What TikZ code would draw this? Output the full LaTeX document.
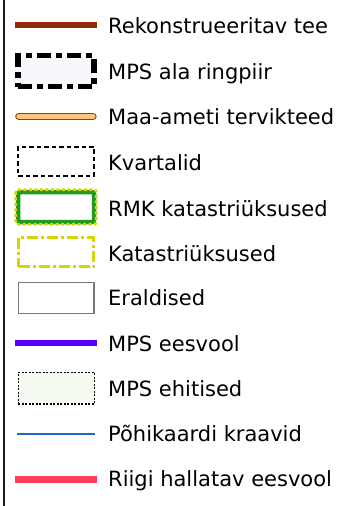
\documentclass[tikz,border=0pt]{standalone}
\usepackage{fontspec}
\setmainfont{DejaVu Sans}
\definecolor{roadbrown}{HTML}{8C2A0A}
\definecolor{mainroad}{HTML}{FFC77E}
\definecolor{mainroadedge}{HTML}{7A4A14}
\definecolor{ringfill}{HTML}{F8F8FC}
\definecolor{rmkgreen}{HTML}{1E9A1E}
\definecolor{cadyellow}{HTML}{D6D600}
\definecolor{standgray}{HTML}{777777}
\definecolor{ditchviolet}{HTML}{5500FF}
\definecolor{buildfill}{HTML}{F4FBF0}
\definecolor{ditchblue}{HTML}{1F66CC}
\definecolor{statered}{HTML}{FF3F5A}
\begin{document}
\begin{tikzpicture}[x=1pt,y=-1pt,
  label/.style={anchor=base west,inner sep=0pt,font=\fontsize{21}{25}\selectfont},
  symbox/.style={rectangle,inner sep=0pt,minimum width=76pt,minimum height=30pt},
  symline/.style={line cap=butt}]
\useasboundingbox (0,0) rectangle (340,506);
% frame edge on the left
\draw[line width=2.5pt,color=black!90] (4,0) -- (4,506);

% 1 reconstructed road
\coordinate (a1) at (15.3,25.4);
\coordinate (b1) at (96.7,25.4);
\draw[symline,line width=6pt,roadbrown] (a1) -- (b1);
\node[label] (t1) at (108,33.3) {Rekonstrueeritav tee};

% 2 ring boundary
\node[symbox,draw=black,fill=ringfill,line width=5.5pt,minimum width=76pt,minimum height=31pt,
  dash pattern=on 14pt off 5pt on 6pt off 5pt] (s2) at (56,71) {};
\node[label] (t2) at (108,79.3) {MPS ala ringpiir};

% 3 national main roads
\coordinate (a3) at (18.8,116.3);
\coordinate (b3) at (93,116.3);
\draw[line cap=round,line width=7.3pt,mainroadedge] (a3) -- (b3);
\draw[line cap=round,line width=5pt,mainroad] (a3) -- (b3);
\node[label] (t3) at (108,124) {Maa-ameti tervikteed};

% 4 quarters
\node[symbox,draw=black,line width=2pt,minimum width=75.7pt,minimum height=29pt,
  dash pattern=on 4.5pt off 3pt] (s4) at (56.2,161.2) {};
\node[label] (t4) at (108,170) {Kvartalid};

% 5 RMK cadastral units
\node[symbox,draw=rmkgreen,fill=white,line width=4.5pt,rounded corners=2pt,
  minimum width=76pt,minimum height=30pt] (s5) at (56,207) {};
\draw[cadyellow,line width=2.6pt,rounded corners=2pt,dash pattern=on 3pt off 2.5pt]
  (s5.north west) rectangle (s5.south east);
\node[label] (t5) at (108,216.7) {RMK katastriüksused};

% 6 cadastral units
\node[symbox,draw=cadyellow,line width=3pt,minimum width=75pt,minimum height=29.5pt,
  dash pattern=on 11pt off 3pt on 3pt off 3pt] (s6) at (56.2,252.2) {};
\node[label] (t6) at (108,261) {Katastriüksused};

% 7 forest stands
\node[symbox,draw=standgray,fill=white,line width=1.5pt,minimum width=75.7pt,minimum height=31.4pt] (s7) at (56.2,298) {};
\node[label] (t7) at (108,305.3) {Eraldised};

% 8 drainage outlet
\coordinate (a8) at (15.3,343.3);
\coordinate (b8) at (96.7,343.3);
\draw[symline,line width=6pt,ditchviolet] (a8) -- (b8);
\node[label] (t8) at (108,351.3) {MPS eesvool};

% 9 structures
\node[symbox,draw=black,fill=buildfill,line width=1.3pt,dash pattern=on 2pt off 1.5pt,minimum width=76pt,minimum height=31.7pt] (s9) at (56.3,388.2) {};
\node[label] (t9) at (108,396.3) {MPS ehitised};

% 10 base map ditches
\coordinate (a10) at (17.3,434);
\coordinate (b10) at (95,434);
\draw[symline,line width=2.5pt,ditchblue] (a10) -- (b10);
\node[label] (t10) at (108,441.3) {Põhikaardi kraavid};

% 11 state-managed outlet
\coordinate (a11) at (15.3,479.7);
\coordinate (b11) at (96.7,479.7);
\draw[symline,line width=6.5pt,statered] (a11) -- (b11);
\node[label] (t11) at (108,486.3) {Riigi hallatav eesvool};
\end{tikzpicture}
\end{document}
